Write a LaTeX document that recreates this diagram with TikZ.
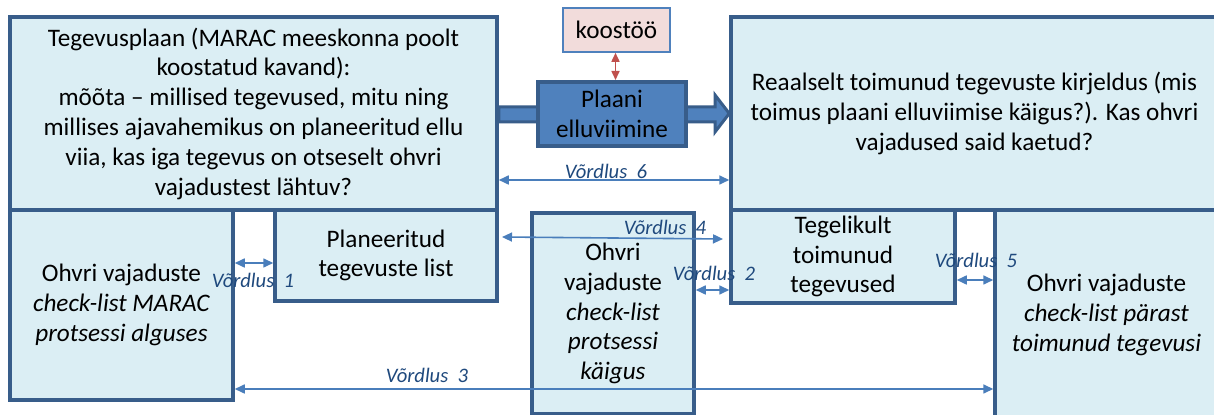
\documentclass[tikz,border=0pt]{standalone}
\usepackage{fontspec}
\setmainfont{Carlito}
\usetikzlibrary{arrows.meta,calc}
\definecolor{boxfill}{HTML}{DBEEF4}
\definecolor{boxline}{HTML}{385D8A}
\definecolor{conn}{HTML}{4A7EBB}
\definecolor{lab}{HTML}{1F497D}
\definecolor{accent}{HTML}{4F81BD}
\definecolor{pinkfill}{HTML}{F2DCDB}
\definecolor{redline}{HTML}{C0504D}
\newcommand{\vsp}{\hspace{0.45em}}
\begin{document}
\begin{tikzpicture}[x=0.5pt,y=-0.5pt,
  box/.style={draw=boxline, fill=boxfill, line width=1.75pt, inner sep=0pt, align=center,
    font=\fontsize{12.6}{14.9}\selectfont},
  cmp/.style={draw=conn, line width=0.8pt,
    {Triangle[length=5pt,width=4.5pt,fill=conn]}-{Triangle[length=5pt,width=4.5pt,fill=conn]}},
  redarrow/.style={draw=redline, line width=0.8pt,
    {Triangle[length=4.5pt,width=4pt,fill=redline]}-{Triangle[length=4.5pt,width=4pt,fill=redline]}},
  lbl/.style={text=lab, font=\fontsize{10.3}{12}\selectfont\itshape, inner sep=0pt},
  bigarrow/.style={draw=boxline, fill=accent, line width=1.5pt, line join=miter},
  actbox/.style={draw=boxline, fill=accent, line width=2pt, inner sep=0pt, align=center,
    font=\fontsize{12.6}{14.9}\selectfont},
  pinkbox/.style={draw=accent, fill=pinkfill, line width=0.8pt, inner sep=0pt, align=center,
    font=\fontsize{12.6}{14.9}\selectfont}]
\clip (0,0) rectangle (1214,415);
\fill[white] (0,0) rectangle (1214,415);

% boxes
\node[box, minimum width=243.5pt, minimum height=96.5pt] (tl) at (253.5,113.5) {Tegevusplaan (MARAC meeskonna poolt\\ koostatud kavand):\\ mõõta – millised tegevused, mitu ning\\ millises ajavahemikus on planeeritud ellu\\ viia, kas iga tegevus on otseselt ohvri\\ vajadustest lähtuv?};
\node[box, minimum width=243.5pt, minimum height=96.5pt] (tr) at (974.5,113.5) {Reaalselt toimunud tegevuste kirjeldus (mis\\ toimus plaani elluviimise käigus?). Kas ohvri\\ vajadused said kaetud?};
\node[box, minimum width=111.5pt, minimum height=95pt] (bl) at (121.5,305) {Ohvri vajaduste\\ \textit{check-list MARAC}\\ \textit{protsessi alguses}};
\node[box, minimum width=111pt, minimum height=45.5pt] (pl) at (386,255.5) {Planeeritud\\ tegevuste list};
\node[box, minimum width=112pt, minimum height=46.5pt] (tg) at (843,256.5) {Tegelikult\\ toimunud\\ tegevused};
\node[box, minimum width=111.5pt, minimum height=105pt] (br) at (1106.5,315) {Ohvri vajaduste\\ \textit{check-list pärast}\\ \textit{toimunud tegevusi}};
\node[box, minimum width=81pt, minimum height=100.5pt] (mid) at (613,313.5) {Ohvri\\ vajaduste\\ \textit{check-list}\\ \textit{protsessi}\\ \textit{käigus}};

% block arrow
\draw[bigarrow] (tl.east |- 0,107) -- (715,107) -- (715,95) -- (tr.west |- 0,113.5)
  -- (715,132) -- (715,122) -- (tl.east |- 0,122) -- cycle;

\node[actbox, minimum width=74pt, minimum height=32pt] (plaan) at (612,114) {Plaani\\ elluviimine};
\node[pinkbox, minimum width=53.5pt, minimum height=22pt] (koos) at (616.5,30) {koostöö};
\draw[redarrow] ([xshift=-0.5pt]koos.south) -- ([xshift=-0.5pt]koos.south |- plaan.north);

% comparison arrows
\coordinate (v4a) at (502,237);
\coordinate (v4b) at (723,239);
\draw[cmp] (tl.east |- 0,180) -- (tr.west |- 0,180);
\draw[cmp] (v4a) -- (v4b);
\draw[cmp] (bl.east |- 0,263) -- (pl.west |- 0,263);
\draw[cmp] (mid.east |- 0,290) -- (tg.west |- 0,290);
\draw[cmp] (tg.east |- 0,280) -- (br.west |- 0,280);
\draw[cmp] (bl.east |- 0,389) -- (br.west |- 0,389);

\node[lbl] (l6) at (606,171) {Võrdlus\vsp 6};
\node[lbl] (l4) at (665,227) {Võrdlus\vsp 4};
\node[lbl] (l1) at (253,280) {Võrdlus\vsp 1};
\node[lbl] (l2) at (714,273) {Võrdlus\vsp 2};
\node[lbl] (l5) at (976,260) {Võrdlus\vsp 5};
\node[lbl] (l3) at (427,375) {Võrdlus\vsp 3};
\end{tikzpicture}
\end{document}
